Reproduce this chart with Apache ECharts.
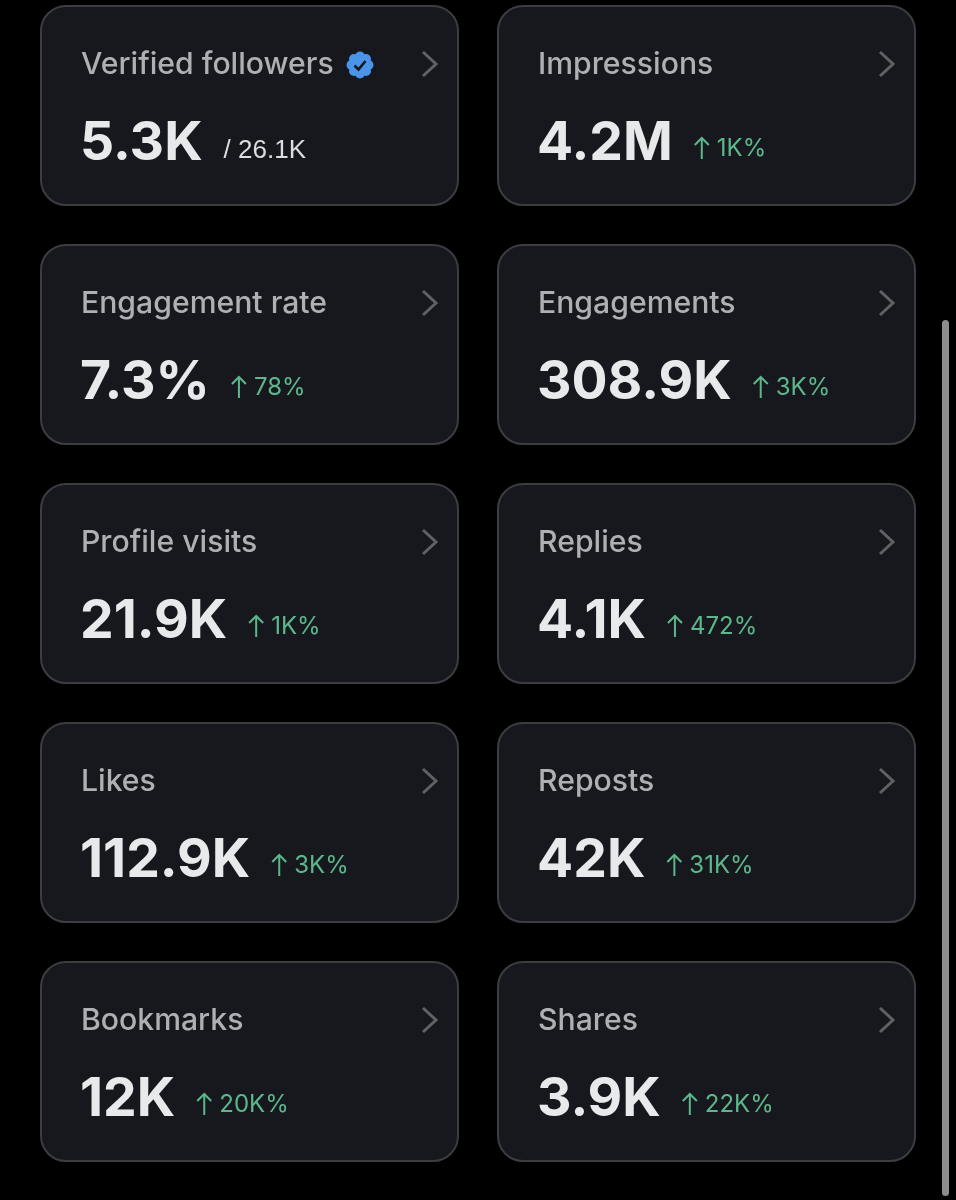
<!DOCTYPE html>
<html>
<head>
<meta charset="utf-8">
<style>
  html,body{margin:0;padding:0;background:#000;}
  #main{width:956px;height:1200px;}
</style>
<script src="https://cdn.jsdelivr.net/npm/echarts@6/dist/echarts.min.js"></script>
</head>
<body>
<div id="main"></div>
<script>
// card data, left to right and top to bottom
var titles=['Verified followers','Impressions','Engagement rate','Engagements','Profile visits','Replies','Likes','Reposts','Bookmarks','Shares'];
var values=['5.3K','4.2M','7.3%','308.9K','21.9K','4.1K','112.9K','42K','12K','3.9K'];
var deltas=['','1K%','78%','3K%','1K%','472%','3K%','31K%','20K%','22K%'];
var totals=['/ 26.1K','','','','','','','','',''];

var titleFont='500 30.2px Inter, Roboto, sans-serif';
var valueFont='700 53.5px Inter, Roboto, sans-serif';
var deltaFont='24px Inter, Roboto, sans-serif';

var ctx=document.createElement('canvas').getContext('2d');
function textWidth(str,font){
  ctx.font=font;
  return ctx.measureText(str).width;
}

var elements=[];
// y is the vertical middle of the text
function addText(x,y,str,font,color){
  elements.push({type:'text',x:x,y:y,style:{text:str,font:font,fill:color,verticalAlign:'middle'}});
}

// blue verified badge: scalloped circle with a tick
function addBadge(cx,cy){
  for(var i=0;i<8;i++){
    var a=i*Math.PI/4;
    elements.push({type:'circle',shape:{cx:cx+8.5*Math.cos(a),cy:cy+8.5*Math.sin(a),r:5},style:{fill:'#4a94ea'}});
  }
  elements.push({type:'circle',shape:{cx:cx,cy:cy,r:10},style:{fill:'#4a94ea'}});
  elements.push({type:'polyline',shape:{points:[[cx-5.5,cy+0.5],[cx-1.5,cy+4.5],[cx+5.5,cy-4]]},style:{stroke:'#16181d',lineWidth:2.6,fill:null}});
}

titles.forEach(function(title,i){
  var x=41+(i%2)*457;
  var y=6+Math.floor(i/2)*239;
  // card
  elements.push({type:'rect',shape:{x:x,y:y,width:417,height:199,r:25},style:{fill:'#16181d',stroke:'#3b3d41',lineWidth:2}});
  // chevron
  elements.push({type:'polyline',shape:{points:[[x+382,y+46],[x+395,y+58],[x+382,y+70]]},style:{stroke:'#5f6165',lineWidth:3,fill:null}});
  addText(x+40,y+59,title,titleFont,'#aeb0b4');
  addText(x+39,y+138,values[i],valueFont,'#e8e9eb');
  var end=x+39+textWidth(values[i],valueFont);
  if(deltas[i]){
    // thin up arrow
    var ax=end+29;
    elements.push({type:'polyline',shape:{points:[[ax,y+153],[ax,y+132]]},style:{stroke:'#5cb88c',lineWidth:2,fill:null}});
    elements.push({type:'polyline',shape:{points:[[ax-7,y+139],[ax,y+132],[ax+7,y+139]]},style:{stroke:'#5cb88c',lineWidth:2,fill:null}});
    addText(end+44,y+143,deltas[i],deltaFont,'#5cb88c');
  }
  if(totals[i]){
    addText(end+21,y+145,totals[i],'26px "Liberation Sans", Arial, sans-serif','#dcdde0');
    addBadge(x+319,y+59);
  }
});

// scrollbar
elements.push({type:'rect',shape:{x:942,y:320,width:7,height:876,r:3.5},style:{fill:'#8c8c8c'}});

var chart=echarts.init(document.getElementById('main'),null,{renderer:'canvas'});
chart.setOption({
  backgroundColor:'#000',
  animation:false,
  graphic:{elements:elements}
});
</script>
</body>
</html>
